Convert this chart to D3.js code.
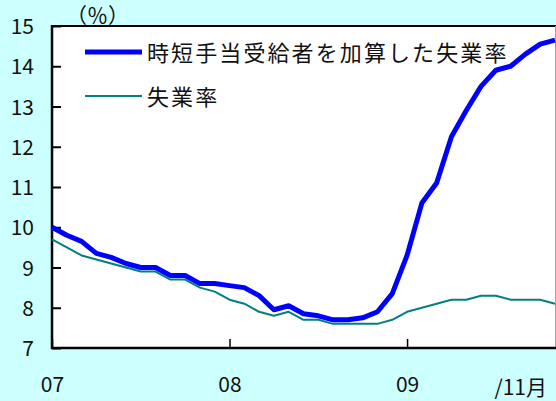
<!DOCTYPE html>
<html>
<head>
<meta charset="utf-8">
<script src="https://cdn.jsdelivr.net/npm/d3@7"></script>
<style>
  html, body { margin: 0; padding: 0; background: #ccffff; }
  svg { display: block; }
  text { font-family: "Noto Sans CJK JP", "Noto Sans", sans-serif; fill: #111; }
</style>
</head>
<body>
<svg id="chart" width="556" height="401"></svg>
<script>
// Monthly categories, Jan 2007 – Nov 2009
const months = [
  "07/01","07/02","07/03","07/04","07/05","07/06","07/07","07/08","07/09","07/10","07/11","07/12",
  "08/01","08/02","08/03","08/04","08/05","08/06","08/07","08/08","08/09","08/10","08/11","08/12",
  "09/01","09/02","09/03","09/04","09/05","09/06","09/07","09/08","09/09","09/10","09/11"
];

// Unemployment rate including short-time allowance recipients (%)
const adjustedRate = [
  10.0, 9.8, 9.65, 9.35, 9.25, 9.1, 9.0, 9.0, 8.8, 8.8, 8.6, 8.6,
  8.55, 8.5, 8.3, 7.95, 8.05, 7.85, 7.8, 7.7, 7.7, 7.75, 7.9, 8.35,
  9.3, 10.6, 11.1, 12.25, 12.9, 13.5, 13.9, 14.0, 14.3, 14.55, 14.65
];

// Unemployment rate (%)
const unemploymentRate = [
  9.7, 9.5, 9.3, 9.2, 9.1, 9.0, 8.9, 8.9, 8.7, 8.7, 8.5, 8.4,
  8.2, 8.1, 7.9, 7.8, 7.9, 7.7, 7.7, 7.6, 7.6, 7.6, 7.6, 7.7,
  7.9, 8.0, 8.1, 8.2, 8.2, 8.3, 8.3, 8.2, 8.2, 8.2, 8.1
];

const yTicks = [7, 8, 9, 10, 11, 12, 13, 14, 15];
const xTickIndex = [0, 12, 24];
const xTickLabels = ["07", "08", "09"];
const lastLabel = "/11月";
const unitLabel = "（％）";
const seriesNames = ["時短手当受給者を加算した失業率", "失業率"];
const seriesColors = ["#0000ff", "#008080"];

const svg = d3.select("#chart");
const W = 556, H = 401;
const m = { left: 52, right: 556, top: 26, bottom: 348 };

svg.append("rect").attr("width", W).attr("height", H).attr("fill", "#ccffff");
svg.append("rect")
  .attr("x", m.left).attr("y", m.top)
  .attr("width", m.right - m.left).attr("height", m.bottom - m.top)
  .attr("fill", "#ffffff");

const x = d3.scaleLinear().domain([0, months.length - 1]).range([m.left, m.right - 1]);
const y = d3.scaleLinear().domain([7, 15]).range([m.bottom, m.top]);

// top and right frame
svg.append("line").attr("x1", m.left).attr("x2", m.right).attr("y1", m.top).attr("y2", m.top)
  .attr("stroke", "#000").attr("stroke-width", 2);
svg.append("line").attr("x1", m.right - 0.5).attr("x2", m.right - 0.5).attr("y1", m.top).attr("y2", m.bottom)
  .attr("stroke", "#a0a0a0").attr("stroke-width", 1);

// y axis (ticks point into the plot)
const yAxis = d3.axisLeft(y).tickValues(yTicks).tickSize(-9).tickPadding(18).tickFormat(d3.format("d"));
const gy = svg.append("g").attr("transform", `translate(${m.left},0)`).call(yAxis);
gy.select(".domain").remove();
gy.selectAll(".tick line").attr("stroke", "#000").attr("stroke-width", 2);
gy.selectAll(".tick text").attr("font-size", 21).attr("dy", "0.36em")
  .style("font-family", '"Noto Sans CJK JP", sans-serif').attr("fill", "#111");

// x axis
const xAxis = d3.axisBottom(x).tickValues(xTickIndex).tickSize(-9).tickPadding(29)
  .tickFormat((d, i) => xTickLabels[i]);
const gx = svg.append("g").attr("transform", `translate(0,${m.bottom})`).call(xAxis);
gx.select(".domain").remove();
gx.selectAll(".tick line").attr("stroke", "#000").attr("stroke-width", 1.5);
gx.selectAll(".tick text").attr("font-size", 21)
  .style("font-family", '"Noto Sans CJK JP", sans-serif').attr("fill", "#111");

svg.append("text")
  .attr("x", x(months.length - 1) - 8).attr("y", m.bottom + 47)
  .attr("text-anchor", "end").attr("font-size", 21)
  .text(lastLabel);

// axis lines
svg.append("line").attr("x1", m.left).attr("x2", m.left).attr("y1", m.top - 1).attr("y2", m.bottom + 1)
  .attr("stroke", "#000").attr("stroke-width", 2.5);
svg.append("line").attr("x1", m.left - 1).attr("x2", m.right).attr("y1", m.bottom).attr("y2", m.bottom)
  .attr("stroke", "#000").attr("stroke-width", 2.5);

// unit label
svg.append("text").attr("x", 66).attr("y", 23).attr("font-size", 21).text(unitLabel);

// series lines
const line = d3.line().x((d, i) => x(i)).y(d => y(d));
const plot = svg.append("g");
plot.append("path").datum(unemploymentRate)
  .attr("fill", "none").attr("stroke", seriesColors[1]).attr("stroke-width", 2)
  .attr("stroke-linejoin", "round").attr("d", line);
plot.append("path").datum(adjustedRate)
  .attr("fill", "none").attr("stroke", seriesColors[0]).attr("stroke-width", 5)
  .attr("stroke-linejoin", "round").attr("d", line);

// legend
const legend = svg.append("g");
const legendRows = [{ y: 52, w: 5 }, { y: 96, w: 2 }];
legendRows.forEach((r, i) => {
  legend.append("line").attr("x1", 85).attr("x2", 142).attr("y1", r.y).attr("y2", r.y)
    .attr("stroke", seriesColors[i]).attr("stroke-width", r.w);
  legend.append("text").attr("x", 147).attr("y", r.y + 8.5)
    .attr("font-size", 22).attr("letter-spacing", 2.1)
    .text(seriesNames[i]);
});
</script>
</body>
</html>
